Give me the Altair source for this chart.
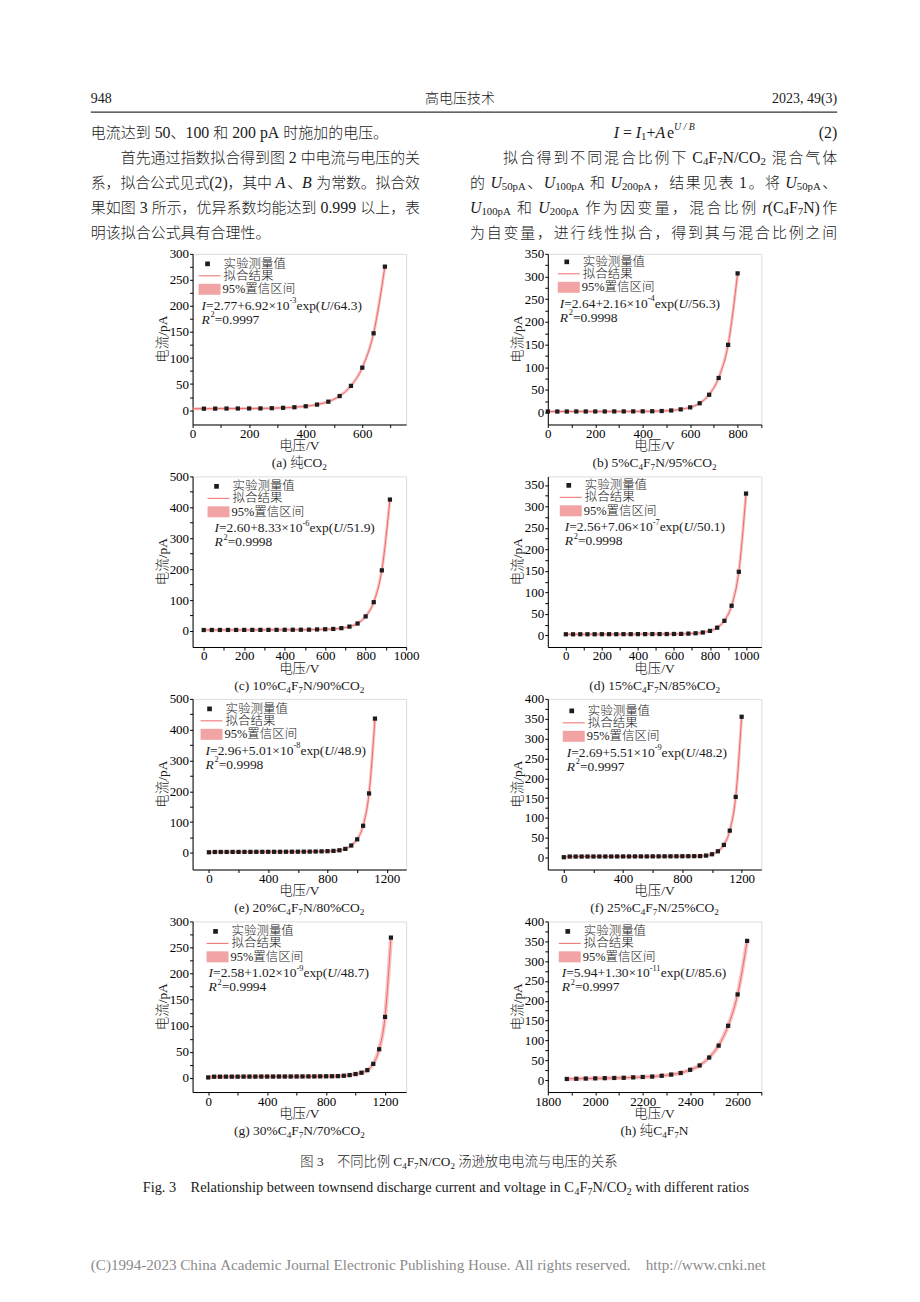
import altair as alt
import pandas as pd

LAT = "Liberation Serif"
FONT = "Liberation Serif, Noto Sans CJK SC, DejaVu Serif"

# ------------------------------------------------------------------ data
# (a) pure CO2
U_a = [40, 80, 120, 160, 200, 240, 280, 320, 360, 400, 440, 480, 520, 560, 600, 640, 680]
I_a = [2.8, 2.9, 3.0, 3.1, 3.2, 3.3, 3.7, 4.4, 5.5, 7.4, 10.6, 16.2, 27.0, 46.5, 81.5, 147.5, 275.5]
FIT0_a = [(0, 2.8)]
# (b) 5% C4F7N
U_b = [0, 40, 80, 120, 160, 200, 240, 280, 320, 360, 400, 440, 480, 520, 560, 600, 640, 680, 720, 760, 800]
I_b = [2.6, 2.6, 2.6, 2.7, 2.7, 2.7, 2.7, 2.8, 2.8, 2.9, 3.0, 3.2, 3.7, 4.9, 7.3, 11.8, 20.8, 39.5, 76.5, 149.5, 307.0]
# (c) 10% C4F7N
U_c = [0, 40, 80, 120, 160, 200, 240, 280, 320, 360, 400, 440, 480, 520, 560, 600, 640, 680, 720, 760, 800, 840, 880, 920]
I_c = [3.0, 3.1, 3.2, 3.3, 3.3, 3.4, 3.4, 3.5, 3.5, 3.6, 3.7, 3.8, 3.9, 4.1, 4.8, 5.5, 6.5, 9.0, 14.0, 24.0, 47.0, 93.0, 196.0, 425.0]
# (d) 15% C4F7N
U_d = [0, 40, 80, 120, 160, 200, 240, 280, 320, 360, 400, 440, 480, 520, 560, 600, 640, 680, 720, 760, 800, 840, 880, 920, 960, 1000]
I_d = [2.6, 2.6, 2.7, 2.7, 2.7, 2.8, 2.8, 2.8, 2.9, 2.9, 3.0, 3.0, 3.1, 3.1, 3.2, 3.3, 3.5, 4.2, 5.0, 6.8, 10.5, 18.0, 34.0, 69.0, 148.0, 330.0]
# (e) 20% C4F7N
U_e = [0, 40, 80, 120, 160, 200, 240, 280, 320, 360, 400, 440, 480, 520, 560, 600, 640, 680, 720, 760, 800, 840, 880, 920, 960, 1000, 1040, 1080, 1120]
I_e = [2.0, 3.0, 3.1, 3.1, 3.2, 3.2, 3.3, 3.3, 3.4, 3.4, 3.5, 3.5, 3.6, 3.7, 3.8, 3.9, 4.0, 4.2, 4.5, 5.0, 5.6, 6.5, 8.5, 13.0, 24.0, 44.0, 88.0, 193.0, 436.0]
# (f) 25% C4F7N
U_f = [0, 40, 80, 120, 160, 200, 240, 280, 320, 360, 400, 440, 480, 520, 560, 600, 640, 680, 720, 760, 800, 840, 880, 920, 960, 1000, 1040, 1080, 1120, 1160, 1200]
I_f = [1.0, 2.7, 2.7, 2.8, 2.8, 2.8, 2.9, 2.9, 2.9, 3.0, 3.0, 3.0, 3.1, 3.1, 3.1, 3.2, 3.2, 3.3, 3.3, 3.4, 3.5, 3.6, 3.7, 3.8, 5.1, 8.5, 16.0, 32.0, 68.0, 153.0, 355.0]
# (g) 30% C4F7N
U_g = [0, 40, 80, 120, 160, 200, 240, 280, 320, 360, 400, 440, 480, 520, 560, 600, 640, 680, 720, 760, 800, 840, 880, 920, 960, 1000, 1040, 1080, 1120, 1160, 1200, 1240]
I_g = [1.0, 2.4, 2.4, 2.5, 2.5, 2.5, 2.6, 2.6, 2.6, 2.7, 2.7, 2.7, 2.8, 2.8, 2.8, 2.9, 2.9, 3.0, 3.0, 3.1, 3.2, 3.3, 3.5, 4.2, 5.5, 7.5, 10.0, 15.0, 27.0, 55.0, 117.0, 269.0]
# (h) pure C4F7N
U_h = [1880, 1920, 1960, 2000, 2040, 2080, 2120, 2160, 2200, 2240, 2280, 2320, 2360, 2400, 2440, 2480, 2520, 2560, 2600, 2640]
I_h = [3.0, 3.5, 4.0, 4.5, 5.0, 5.5, 6.0, 7.0, 8.0, 9.0, 11.0, 14.0, 18.0, 26.0, 37.0, 57.0, 87.0, 137.0, 216.0, 351.0]

# axis ticks (all tick positions, and the labelled ones)
XT_a, XM_a = list(range(0, 701, 100)), [0, 200, 400, 600]
XT_b, XM_b = list(range(0, 901, 100)), [0, 200, 400, 600, 800]
XT_c, XM_c = list(range(0, 1001, 100)), [0, 200, 400, 600, 800, 1000]
XT_d, XM_d = list(range(0, 1001, 100)), [0, 200, 400, 600, 800, 1000]
XT_e, XM_e = list(range(0, 1201, 200)), [0, 400, 800, 1200]
XT_h, XM_h = list(range(1800, 2701, 100)), [1800, 2000, 2200, 2400, 2600]
YT_300, YM_300 = list(range(0, 301, 25)), list(range(0, 301, 50))
YT_350, YM_350 = list(range(0, 351, 25)), list(range(0, 351, 50))
YT_400, YM_400 = list(range(0, 401, 25)), list(range(0, 401, 50))
YT_500, YM_500 = list(range(0, 501, 50)), list(range(0, 501, 100))

# fit equations: (I1, A mantissa, A exponent, B, R^2)
EQ = {
    "a": ("2.77", "6.92", "-3", "64.3", "0.9997"),
    "b": ("2.64", "2.16", "-4", "56.3", "0.9998"),
    "c": ("2.60", "8.33", "-6", "51.9", "0.9998"),
    "d": ("2.56", "7.06", "-7", "50.1", "0.9998"),
    "e": ("2.96", "5.01", "-8", "48.9", "0.9998"),
    "f": ("2.69", "5.51", "-9", "48.2", "0.9997"),
    "g": ("2.58", "1.02", "-9", "48.7", "0.9994"),
    "h": ("5.94", "1.30", "-11", "85.6", "0.9997"),
}
CAP = {
    "a": [("(a) 纯CO", "n"), ("2", "s")],
    "b": [("(b) 5%C", "n"), ("4", "s"), ("F", "n"), ("7", "s"), ("N/95%CO", "n"), ("2", "s")],
    "c": [("(c) 10%C", "n"), ("4", "s"), ("F", "n"), ("7", "s"), ("N/90%CO", "n"), ("2", "s")],
    "d": [("(d) 15%C", "n"), ("4", "s"), ("F", "n"), ("7", "s"), ("N/85%CO", "n"), ("2", "s")],
    "e": [("(e) 20%C", "n"), ("4", "s"), ("F", "n"), ("7", "s"), ("N/80%CO", "n"), ("2", "s")],
    "f": [("(f) 25%C", "n"), ("4", "s"), ("F", "n"), ("7", "s"), ("N/25%CO", "n"), ("2", "s")],
    "g": [("(g) 30%C", "n"), ("4", "s"), ("F", "n"), ("7", "s"), ("N/70%CO", "n"), ("2", "s")],
    "h": [("(h) 纯C", "n"), ("4", "s"), ("F", "n"), ("7", "s"), ("N", "n")],
}
LEG_NAMES = ["实验测量值", "拟合结果", "95%置信区间"]

# ------------------------------------------------------------------ layout helpers
OX, OY = 192, 252          # page position of panel (a) plot area
PW, PH = 214, 171
dummy = pd.DataFrame({"d": [0]})
NB = "\u00a0"

TW = {" ": .25, NB: .25, "!": .333, "%": .833, "(": .333, ")": .333, "+": .564, ",": .25,
      "-": .333, ".": .25, "/": .278, ":": .278, "=": .564, "×": .564}
for _c in "0123456789":
    TW[_c] = .5
TW.update(dict(zip("ABCDEFGHIJKLMNOPQRSTUVWXYZ",
                   [.722, .667, .667, .722, .611, .556, .722, .722, .333, .389, .722, .611, .889,
                    .722, .722, .556, .722, .667, .556, .611, .722, .722, .944, .722, .722, .611])))
TW.update(dict(zip("abcdefghijklmnopqrstuvwxyz",
                   [.444, .5, .444, .5, .444, .333, .5, .5, .278, .278, .5, .278, .778,
                    .5, .5, .5, .5, .333, .389, .278, .5, .5, .722, .5, .5, .444])))


def is_cjk(c):
    return ord(c) >= 0x2E80


def wid(s, lat=1.0):
    return sum(1.0 if is_cjk(c) else TW.get(c, .5) * lat for c in s)


SC = {"n": (1.0, 0.0, False), "i": (1.0, 0.0, True), "s": (0.68, 0.28, False),
      "q": (0.62, -0.40, False), "p": (0.62, -0.40, True)}


def T(s, x, y, size, align="left", color="#1a1a1a", italic=False, angle=None):
    kw = dict(text=s.replace(" ", NB), align=align, baseline="middle", fontSize=size,
              font=FONT, color=color, fontWeight=300)
    if italic:
        kw["fontStyle"] = "italic"
    if angle is not None:
        kw["angle"] = angle
    return alt.Chart(dummy).mark_text(**kw).encode(x=alt.value(x), y=alt.value(y))


def seg_width(segs, size, lat=1.0):
    return sum(wid(t, lat) * size * SC[k][0] for t, k in segs)


def runs(segs, x0, y, size, x1=None, center=None, color="#1a1a1a", ox=0, oy=0, lat=1.0):
    """Lay out mixed CJK / Latin runs; CJK characters become separate tokens so a
    line can be justified between x0 and x1."""
    toks = []
    for text, kind in segs:
        buf = ""
        for c in text:
            if is_cjk(c):
                if buf:
                    toks.append((buf, kind))
                    buf = ""
                toks.append((c, kind))
            else:
                buf += c
        if buf:
            toks.append((buf, kind))
    ws = [wid(t, lat) * size * SC[k][0] for t, k in toks]
    total = sum(ws)
    if center is not None:
        x0 = center - total / 2
    gaps = [is_cjk(toks[i][0][0]) or is_cjk(toks[i + 1][0][0]) for i in range(len(toks) - 1)]
    g = 0.0
    if x1 is not None and sum(gaps):
        g = (x1 - x0 - total) / sum(gaps)
    out = []
    x = x0
    for i, ((t, k), w) in enumerate(zip(toks, ws)):
        sc, dy, it = SC[k]
        core = t.strip(" ")
        if core:
            lead = len(t) - len(t.lstrip(" "))
            fs = size * sc * (1.0 if is_cjk(core[0]) else lat)
            xs = x + lead * TW[" "] * lat * size * sc
            out.append(T(core, xs - ox, y + dy * size - oy, fs, italic=it, color=color))
        x += w + (g if i < len(gaps) and gaps[i] else 0)
    return out


def page_runs(segs, x0, y, size, **kw):
    return runs(segs, x0, y, size, ox=OX, oy=OY, **kw)


# ------------------------------------------------------------------ page text (drawn inside panel (a))
page = []
page.append(alt.Chart(dummy).mark_rect(opacity=0).encode(
    x=alt.value(-OX), x2=alt.value(920 - OX), y=alt.value(-OY), y2=alt.value(1302 - OY)))
page.append(T("948", 90 - OX, 97 - OY, 14))
page.append(T("高电压技术", 460 - OX, 97 - OY, 14, align="center"))
page.append(T("2023, 49(3)", 838 - OX, 97 - OY, 14, align="right"))
page.append(alt.Chart(dummy).mark_rule(color="#333333", strokeWidth=1.2).encode(
    x=alt.value(90 - OX), x2=alt.value(838 - OX), y=alt.value(110 - OY)))

BS = 15
BL = 1.06
page += page_runs([("电流达到 50、100 和 200 pA 时施加的电压。", "n")], 90, 131, BS, lat=BL)
page += page_runs([("首先通过指数拟合得到图 2 中电流与电压的关", "n")], 120, 156, BS, x1=420, lat=BL)
page += page_runs([("系，拟合公式见式(2)，其中 ", "n"), ("A", "i"), ("、", "n"), ("B", "i"),
                   (" 为常数。拟合效", "n")], 90, 181, BS, x1=420, lat=BL)
page += page_runs([("果如图 3 所示，优异系数均能达到 0.999 以上，表", "n")], 90, 206, BS, x1=420, lat=BL)
page += page_runs([("明该拟合公式具有合理性。", "n")], 90, 231, BS, lat=BL)

page += page_runs([("I", "i"), (" = ", "n"), ("I", "i"), ("1", "s"), ("+", "n"), ("A", "i"),
                   ("e", "n"), ("U / B", "p")], 614, 131, BS, lat=BL)
page.append(T("(2)", 838 - OX, 131 - OY, BS * BL, align="right"))
page += page_runs([("拟合得到不同混合比例下 C", "n"), ("4", "s"), ("F", "n"), ("7", "s"),
                   ("N/CO", "n"), ("2", "s"), (" 混合气体", "n")], 503, 156, BS, x1=838, lat=BL)
page += page_runs([("的 ", "n"), ("U", "i"), ("50pA", "s"), ("、", "n"), ("U", "i"), ("100pA", "s"),
                   (" 和 ", "n"), ("U", "i"), ("200pA", "s"), ("，结果见表 1。将 ", "n"),
                   ("U", "i"), ("50pA", "s"), ("、", "n")], 470, 181, BS, x1=838, lat=BL)
page += page_runs([("U", "i"), ("100pA", "s"), (" 和 ", "n"), ("U", "i"), ("200pA", "s"),
                   (" 作为因变量，混合比例 ", "n"), ("r", "i"), ("(C", "n"), ("4", "s"), ("F", "n"),
                   ("7", "s"), ("N)作", "n")], 470, 206, BS, x1=838, lat=BL)
page += page_runs([("为自变量，进行线性拟合，得到其与混合比例之间", "n")], 470, 231, BS, x1=838, lat=BL)

CAP_CN = [("图 3    不同比例 C", "n"), ("4", "s"), ("F", "n"), ("7", "s"), ("N/CO", "n"), ("2", "s"),
          (" 汤逊放电电流与电压的关系", "n")]
CAP_EN = [("Fig. 3    Relationship between townsend discharge current and voltage in C", "n"),
          ("4", "s"), ("F", "n"), ("7", "s"), ("N/CO", "n"), ("2", "s"), (" with different ratios", "n")]
fs_cn = 318 / seg_width(CAP_CN, 1)
fs_en = 608 / seg_width(CAP_EN, 1)
page += page_runs(CAP_CN, 0, 1162, fs_cn, center=459)
page += page_runs(CAP_EN, 0, 1188, fs_en, center=446)
FOOT = "(C)1994-2023 China Academic Journal Electronic Publishing House. All rights reserved.    http://www.cnki.net"
page.append(T(FOOT, 90 - OX, 1265 - OY, 678 / wid(FOOT), color="#8a8a8a"))


# ------------------------------------------------------------------ panels
def panel(key, U, I, xdom, ydom, xt, xm, yt, ym, lg, fit0=None, extra=None, band_w=3.0):
    pts = pd.DataFrame({"U": U, "I": I})
    fpairs = (fit0 or []) + list(zip(U, I))
    fit = pd.DataFrame({"U": [p[0] for p in fpairs], "I": [p[1] for p in fpairs]})
    axcommon = dict(title=None, grid=False, format="d", domainColor="black", tickColor="black",
                    labelColor="black", labelFont=LAT, labelFontSize=13, labelFlush=False,
                    labelOverlap=False, domainWidth=1, tickWidth=1)
    X = alt.X("U:Q", scale=alt.Scale(domain=xdom, nice=False, zero=False),
              axis=alt.Axis(values=xt, labelExpr=f"indexof({xm}, datum.value) >= 0 ? datum.label : ''",
                            tickSize=3, labelPadding=0, **axcommon))
    Y = alt.Y("I:Q", scale=alt.Scale(domain=ydom, nice=False, zero=False),
              axis=alt.Axis(values=yt, labelExpr=f"indexof({ym}, datum.value) >= 0 ? datum.label : ''",
                            tickSize=3, labelPadding=1, **axcommon))
    band = alt.Chart(fit).mark_line(color="#f19c9c", strokeWidth=band_w, opacity=0.6,
                                    interpolate="monotone").encode(x=X, y=Y)
    line = alt.Chart(fit).mark_line(color="#f06a6a", strokeWidth=1,
                                    interpolate="monotone").encode(x=X, y=Y)
    dots = alt.Chart(pts).mark_square(size=18, color="#1c1c1c", opacity=1).encode(x=X, y=Y)

    dx, sy, eqx = lg
    deco = [
        alt.Chart(dummy).mark_square(size=22, color="#1c1c1c", opacity=1).encode(
            x=alt.value(dx + 9), y=alt.value(sy)),
        alt.Chart(dummy).mark_rule(color="#f06a6a", strokeWidth=1).encode(
            x=alt.value(dx), x2=alt.value(dx + 22), y=alt.value(sy + 12)),
        alt.Chart(dummy).mark_rect(color="#f2a3a3").encode(
            x=alt.value(dx), x2=alt.value(dx + 22), y=alt.value(sy + 20), y2=alt.value(sy + 31)),
        T(LEG_NAMES[0], dx + 25, sy, 12.5),
        T(LEG_NAMES[1], dx + 25, sy + 12, 12.5),
        T(LEG_NAMES[2], dx + 24, sy + 25.5, 12.5),
    ]
    i1, am, ae, b, r2 = EQ[key]
    deco += runs([("I", "i"), (f"={i1}+{am}×10", "n"), (ae, "q"), ("exp(", "n"), ("U", "i"),
                  (f"/{b})", "n")], eqx, sy + 42, 13.5)
    deco += runs([("R", "i"), ("2", "q"), (f"={r2}", "n")], eqx, sy + 56, 13.5)
    deco.append(T("电流/pA", -30, PH / 2, 13.5, align="center", angle=270))
    deco.append(T("电压/V", PW / 2, PH + 22, 13.5, align="center"))
    deco += runs(CAP[key], 0, PH + 39, 13.5, center=PW / 2)
    layers = (extra or []) + [band, line, dots] + deco
    return alt.layer(*layers).properties(width=PW, height=PH)


pa = panel("a", U_a, I_a, [0, 755], [-27.6, 300], XT_a, XM_a, YT_300, YM_300, (6, 10, 9),
           fit0=FIT0_a, extra=page)
pb = panel("b", U_b, I_b, [0, 900], [-26, 350], XT_b, XM_b, YT_350, YM_350, (10, 8, 12))
pc = panel("c", U_c, I_c, [-55, 1000], [-52, 500], XT_c, XM_c, YT_500, YM_500, (15, 10, 22))
pd_ = panel("d", U_d, I_d, [-100, 1085], [-27, 370], XT_d, XM_d, YT_350, YM_350, (12, 9, 17))
pe = panel("e", U_e, I_e, [-110, 1330], [-54, 500], XT_e, XM_e, YT_500, YM_500, (8, 10, 13))
pf = panel("f", U_f, I_f, [-108, 1333], [-30, 400], XT_e, XM_e, YT_400, YM_400, (15, 12, 19))
pg = panel("g", U_g, I_g, [-106, 1343], [-27, 300], XT_e, XM_e, YT_300, YM_300, (14, 10, 16),
           band_w=4.0)
ph = panel("h", U_h, I_h, [1800, 2700], [-30, 400], XT_h, XM_h, YT_400, YM_400, (11, 10, 14),
           band_w=4.0)

chart = alt.concat(pa, pb, pc, pd_, pe, pf, pg, ph, columns=2,
                   spacing={"row": 52, "column": 142}, bounds="flush").properties(
    padding=0, background="white"
).configure_view(stroke="black", strokeWidth=1).configure(font=FONT)

chart.save("out.html", embed_options={"renderer": "svg", "actions": False})
